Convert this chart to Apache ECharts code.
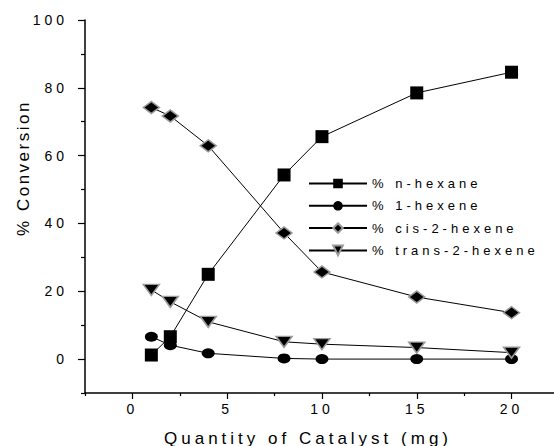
<!DOCTYPE html>
<html>
<head>
<meta charset="utf-8">
<script src="https://cdn.jsdelivr.net/npm/echarts@6/dist/echarts.min.js"></script>
<style>
html,body{margin:0;padding:0;background:#fff;}
#chart{width:554px;height:446px;}
#chart svg text{letter-spacing:4px;}
</style>
</head>
<body>
<div id="chart"></div>
<script>
const xValues = [1, 2, 4, 8, 10, 15, 20];
const nHexane = [1.2, 6.6, 25, 54.3, 65.6, 78.5, 84.6];
const hexene1 = [6.6, 4.1, 1.7, 0.2, 0, 0, 0];
const cis2Hexene = [74.2, 71.7, 62.9, 37.2, 25.7, 18.3, 13.7];
const trans2Hexene = [20.4, 16.9, 11, 5.1, 4.4, 3.4, 1.9];
const seriesNames = ['% n-hexane', '% 1-hexene', '% cis-2-hexene', '% trans-2-hexene'];
const xMajorTicks = [0, 5, 10, 15, 20];
const xMinorTicks = [-2.5, 2.5, 7.5, 12.5, 17.5];
const yMajorTicks = [0, 20, 40, 60, 80, 100];
const yMinorTicks = [-10, 10, 30, 50, 70, 90];
const xTitle = 'Quantity of Catalyst (mg)';
const yTitle = '% Conversion';

const pairs = arr => xValues.map((x, i) => [x, arr[i]]);
const font = 'Liberation Sans, Arial, sans-serif';
const triDown = 'path://M0,0 L10,0 L5,7 Z';

const mk = (name, data, symbol, size, border) => ({
  name, type: 'line', data: pairs(data), symbol, symbolSize: size,
  lineStyle: {color: '#000', width: 1},
  itemStyle: {color: '#000', borderColor: border ? '#9a9a9a' : '#000', borderWidth: border ? 1.5 : 0, opacity: 1},
  emphasis: {disabled: true}, animation: false
});

const xBase = {
  type: 'value', min: -2.5, max: 22.24, position: 'bottom',
  splitLine: {show: false}
};
const yBase = {
  type: 'value', min: -10, max: 100, position: 'left',
  splitLine: {show: false}
};

const chart = echarts.init(document.getElementById('chart'), null, {renderer: 'svg'});
function fixSpacing() {
  document.querySelectorAll('#chart svg text').forEach(t => {
    if (t.textContent === yTitle) t.style.letterSpacing = '2.5px';
  });
}
chart.on('finished', fixSpacing);
chart.setOption({
  animation: false,
  backgroundColor: '#fff',
  grid: {left: 85, right: 0, top: 20, bottom: 53, containLabel: false},
  xAxis: [
    Object.assign({}, xBase, {
      axisLine: {show: true, onZero: false, lineStyle: {color: '#000', width: 1.5}},
      axisTick: {show: true, length: 6, customValues: xMajorTicks, lineStyle: {color: '#000', width: 1.2}},
      axisLabel: {show: true, customValues: xMajorTicks, color: '#000', fontSize: 14, fontFamily: font, margin: 9}
    }),
    Object.assign({}, xBase, {
      axisLine: {show: false, onZero: false},
      axisTick: {show: true, length: 3, customValues: xMinorTicks, lineStyle: {color: '#000', width: 1.2}},
      axisLabel: {show: false}
    })
  ],
  yAxis: [
    Object.assign({}, yBase, {
      axisLine: {show: true, onZero: false, lineStyle: {color: '#000', width: 1.5}},
      axisTick: {show: true, length: 7, customValues: yMajorTicks, lineStyle: {color: '#000', width: 1.2}},
      axisLabel: {show: true, customValues: yMajorTicks, color: '#000', fontSize: 14, fontFamily: font, margin: 17}
    }),
    Object.assign({}, yBase, {
      axisLine: {show: false, onZero: false},
      axisTick: {show: true, length: 4, customValues: yMinorTicks, lineStyle: {color: '#000', width: 1.2}},
      axisLabel: {show: false}
    })
  ],
  legend: {
    orient: 'vertical', left: 303, top: 172, itemWidth: 58, itemHeight: 12, itemGap: 9.3,
    textStyle: {color: '#000', fontSize: 13, fontFamily: font},
    data: seriesNames
  },
  graphic: [
    {type: 'text', x: 308, y: 438, style: {text: xTitle, fill: '#000', font: '17px ' + font, textAlign: 'center', textVerticalAlign: 'middle'}},
    {type: 'text', x: 23, y: 168, rotation: Math.PI / 2, style: {text: yTitle, fill: '#000', font: '17px ' + font, textAlign: 'center', textVerticalAlign: 'middle'}}
  ],
  series: [
    mk(seriesNames[0], nHexane, 'rect', 13, false),
    mk(seriesNames[1], hexene1, 'circle', [13, 10], false),
    mk(seriesNames[2], cis2Hexene, 'diamond', [16, 12], true),
    mk(seriesNames[3], trans2Hexene, triDown, [16, 11], true)
  ]
});
setTimeout(fixSpacing, 50);
</script>
</body>
</html>
